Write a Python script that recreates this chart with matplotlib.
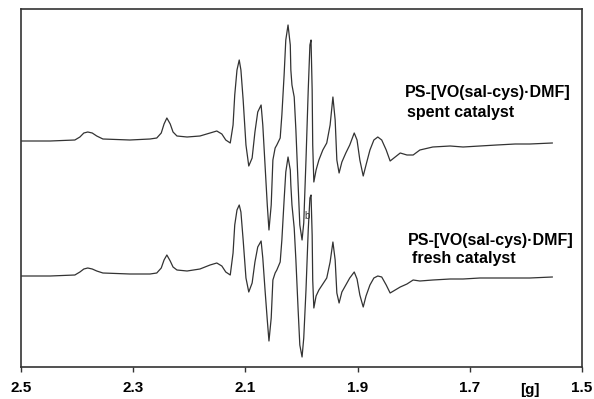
import numpy as np
import matplotlib
matplotlib.use("Agg")
import matplotlib.pyplot as plt

# field axis in g-values, shared by both traces
g_vals = [2.500, 2.448, 2.404, 2.395, 2.388, 2.381, 2.373, 2.365, 2.354, 2.306,
          2.270, 2.258, 2.250, 2.245, 2.240, 2.234, 2.229, 2.222, 2.204, 2.181,
          2.163, 2.151, 2.142, 2.135, 2.127, 2.122, 2.119, 2.115, 2.111, 2.108,
          2.104, 2.099, 2.094, 2.088, 2.083, 2.078, 2.072, 2.069, 2.065, 2.061,
          2.058, 2.054, 2.051, 2.047, 2.044, 2.038, 2.035, 2.031, 2.028, 2.024,
          2.020, 2.019, 2.017, 2.013, 2.010, 2.006, 2.003, 1.999, 1.996, 1.992,
          1.988, 1.985, 1.983, 1.981, 1.980, 1.978, 1.974, 1.969, 1.962, 1.955,
          1.949, 1.944, 1.940, 1.937, 1.933, 1.928, 1.921, 1.914, 1.906, 1.901,
          1.896, 1.890, 1.885, 1.878, 1.871, 1.864, 1.857, 1.849, 1.842, 1.833,
          1.824, 1.812, 1.801, 1.789, 1.766, 1.735, 1.712, 1.682, 1.652, 1.619,
          1.593, 1.553]

# spent catalyst trace (arbitrary units, stacked above the fresh one)
spent = [258, 258, 259, 262, 266, 267, 266, 263, 260, 259,
         260, 261, 266, 275, 281, 275, 267, 263, 262, 263,
         266, 268, 265, 259, 256, 274, 304, 329, 339, 329,
         299, 254, 233, 241, 267, 287, 294, 274, 234, 194,
         169, 194, 239, 251, 254, 261, 284, 324, 359, 374,
         354, 329, 314, 302, 269, 214, 174, 159, 176, 239,
         309, 354, 359, 309, 254, 217, 229, 239, 249, 256,
         274, 302, 279, 239, 226, 237, 246, 254, 266, 259,
         239, 223, 234, 249, 259, 262, 259, 249, 238, 242,
         246, 244, 244, 249, 252, 253, 252, 253, 254, 255,
         255, 256]

# fresh catalyst trace (arbitrary units)
fresh = [123, 123, 124, 127, 130, 131, 130, 128, 126, 125,
         125, 126, 131, 139, 144, 138, 132, 129, 128, 130,
         134, 136, 133, 127, 124, 146, 174, 189, 194, 187,
         159, 121, 107, 116, 137, 152, 158, 141, 109, 79,
         58, 81, 119, 126, 129, 137, 159, 199, 227, 242,
         229, 214, 194, 171, 139, 89, 54, 42, 61, 109,
         169, 201, 204, 164, 119, 91, 103, 109, 115, 121,
         137, 157, 139, 106, 96, 107, 114, 121, 127, 120,
         104, 92, 103, 114, 121, 123, 122, 114, 106, 109,
         112, 115, 119, 118, 119, 120, 120, 121, 121, 121,
         121, 122]

ticks = [2.5, 2.3, 2.1, 1.9, 1.7, 1.5]
tick_labels = ["2.5", "2.3", "2.1", "1.9", "1.7", "1.5"]

plt.rcParams['font.family'] = ['Liberation Sans', 'DejaVu Sans']

fig = plt.figure(figsize=(5.94, 3.99), dpi=100)
ax = fig.add_axes([21 / 594, 32 / 399, 561 / 594, 358 / 399])

line_col = '#333333'
ax.plot(g_vals, spent, color=line_col, lw=0.9)
ax.plot(g_vals, fresh, color=line_col, lw=0.9)

ax.set_xlim(2.5, 1.5)
ax.set_ylim(32, 390)

ax.set_xticks(ticks)
ax.set_xticklabels(tick_labels, fontweight='bold', fontsize=11)
ax.tick_params(axis='x', direction='out', length=3.6, width=1, pad=6.5, color='#333333')
ax.set_yticks([])
for s in ax.spines.values():
    s.set_linewidth(1.2)
    s.set_color('#333333')

ax.text(1.593, -0.064, "[g]", transform=ax.get_xaxis_transform(),
        ha='center', va='center', fontsize=11, fontweight='bold')

lab = "PS-[VO(sal-cys)\u00b7DMF]"
ax.text(1.816, 307, lab, ha='left', va='center', fontsize=11.5, fontweight='bold')
ax.text(1.812, 286, "spent catalyst", ha='left', va='center', fontsize=11.5, fontweight='bold')
ax.text(1.810, 159, lab, ha='left', va='center', fontsize=11.5, fontweight='bold')
ax.text(1.803, 141, "fresh catalyst", ha='left', va='center', fontsize=11.5, fontweight='bold')
ax.text(1.990, 183, "b", ha='center', va='center', fontsize=7, color='#333333')

fig.savefig("out.png", dpi=100)
